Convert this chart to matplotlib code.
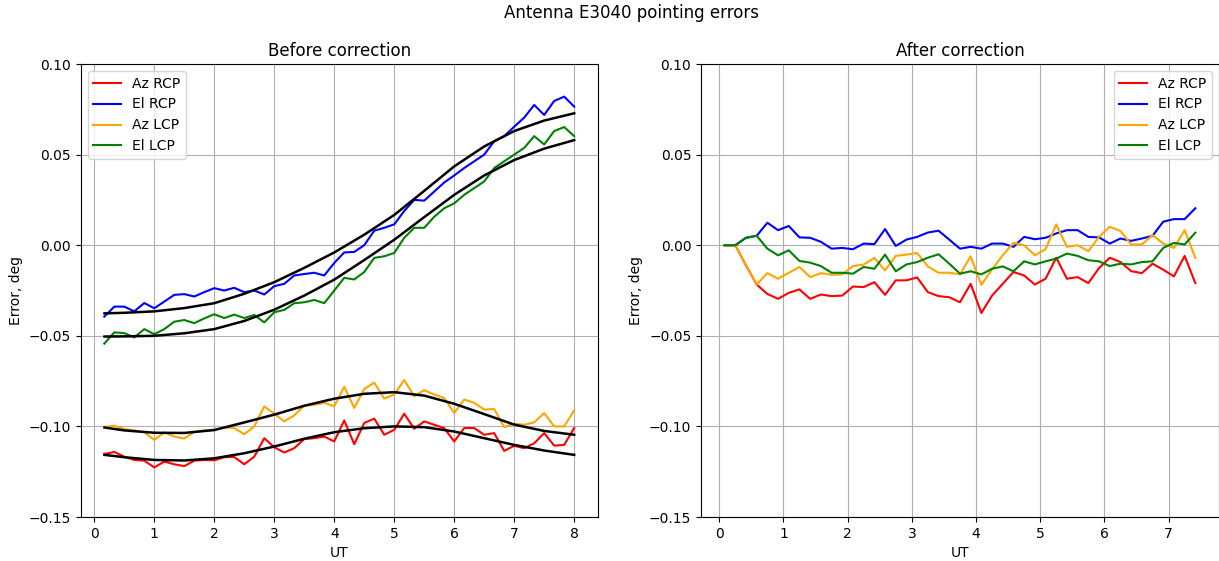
import numpy as np
import matplotlib
matplotlib.use("Agg")
import matplotlib.pyplot as plt

### input data
ut_before = np.arange(1, 49) / 6.0           # 10 min steps, 0.17 .. 8.0 h
ut_after = (2 * np.arange(45) + 1) / 12.0    # 0.08 .. 7.42 h

az_rcp_before = [-0.1152, -0.1141, -0.1167, -0.1185, -0.1189, -0.1226, -0.1194, -0.1209, -0.1219, -0.1189,
                 -0.1185, -0.1187, -0.1170, -0.1169, -0.1209, -0.1167, -0.1065, -0.1115, -0.1144, -0.1120,
                 -0.1070, -0.1065, -0.1056, -0.1083, -0.0967, -0.1098, -0.0981, -0.0957, -0.1046, -0.1019,
                 -0.0930, -0.1013, -0.0972, -0.0991, -0.1009, -0.1083, -0.1009, -0.1009, -0.1046, -0.1037,
                 -0.1135, -0.1107, -0.1120, -0.1093, -0.1037, -0.1106, -0.1102, -0.1009]
el_rcp_before = [-0.0394, -0.0339, -0.0339, -0.0365, -0.0319, -0.0348, -0.0311, -0.0274, -0.0270, -0.0283,
                 -0.0259, -0.0237, -0.0250, -0.0235, -0.0259, -0.0250, -0.0272, -0.0226, -0.0213, -0.0167,
                 -0.0159, -0.0152, -0.0167, -0.0098, -0.0040, -0.0037, 0.0000, 0.0080, 0.0096, 0.0115,
                 0.0189, 0.0250, 0.0246, 0.0296, 0.0346, 0.0385, 0.0426, 0.0463, 0.0500, 0.0574,
                 0.0602, 0.0654, 0.0704, 0.0774, 0.0719, 0.0796, 0.0820, 0.0765]
az_lcp_before = [-0.1004, -0.0996, -0.1015, -0.1022, -0.1033, -0.1074, -0.1033, -0.1056, -0.1067, -0.1031,
                 -0.1022, -0.1019, -0.1006, -0.1009, -0.1043, -0.1000, -0.0889, -0.0930, -0.0972, -0.0939,
                 -0.0885, -0.0880, -0.0870, -0.0889, -0.0781, -0.0898, -0.0793, -0.0759, -0.0846, -0.0824,
                 -0.0744, -0.0833, -0.0800, -0.0824, -0.0843, -0.0926, -0.0852, -0.0870, -0.0907, -0.0904,
                 -0.1004, -0.0985, -0.0991, -0.0978, -0.0926, -0.1000, -0.1000, -0.0911]
el_lcp_before = [-0.0543, -0.0481, -0.0485, -0.0509, -0.0463, -0.0491, -0.0463, -0.0422, -0.0413, -0.0430,
                 -0.0404, -0.0381, -0.0402, -0.0383, -0.0402, -0.0385, -0.0426, -0.0370, -0.0357, -0.0320,
                 -0.0315, -0.0302, -0.0320, -0.0250, -0.0180, -0.0189, -0.0148, -0.0070, -0.0061, -0.0043,
                 0.0041, 0.0096, 0.0096, 0.0157, 0.0204, 0.0231, 0.0278, 0.0315, 0.0352, 0.0426,
                 0.0463, 0.0500, 0.0537, 0.0602, 0.0556, 0.0630, 0.0652, 0.0602]

### model curves (black lines), read every half hour
ut_model = [0.17, 0.5, 1.0, 1.5, 2.0, 2.5, 3.0, 3.5, 4.0, 4.5, 5.0, 5.5, 6.0, 6.5, 7.0, 7.5, 8.0]
az_rcp_model = [-0.1157, -0.1170, -0.1185, -0.1188, -0.1176, -0.1148, -0.1111, -0.1068, -0.1032, -0.1010,
                -0.1000, -0.1004, -0.1028, -0.1065, -0.1102, -0.1133, -0.1157]
el_rcp_model = [-0.0376, -0.0373, -0.0365, -0.0347, -0.0320, -0.0268, -0.0204, -0.0125, -0.0040, 0.0058,
                0.0167, 0.0300, 0.0435, 0.0545, 0.0630, 0.0688, 0.0728]
az_lcp_model = [-0.1006, -0.1022, -0.1035, -0.1036, -0.1020, -0.0978, -0.0935, -0.0886, -0.0847, -0.0820,
                -0.0811, -0.0830, -0.0875, -0.0932, -0.0990, -0.1025, -0.1046]
el_lcp_model = [-0.0504, -0.0503, -0.0500, -0.0486, -0.0463, -0.0418, -0.0356, -0.0278, -0.0190, -0.0082,
                0.0030, 0.0155, 0.0278, 0.0385, 0.0470, 0.0533, 0.0580]

az_rcp_after = [0.0, 0.0, -0.0111, -0.0217, -0.0269, -0.0296, -0.0263, -0.0244, -0.0296, -0.0272,
                -0.0281, -0.0278, -0.0228, -0.0231, -0.0204, -0.0274, -0.0194, -0.0194, -0.0178, -0.0259,
                -0.0281, -0.0287, -0.0315, -0.0213, -0.0374, -0.0278, -0.0213, -0.0148, -0.0167, -0.0217,
                -0.0185, -0.0069, -0.0185, -0.0176, -0.0209, -0.0126, -0.0069, -0.0093, -0.0143, -0.0154,
                -0.0102, -0.0135, -0.0172, -0.0059, -0.0209]
el_rcp_after = [0.0, 0.0, 0.0041, 0.0052, 0.0124, 0.0083, 0.0106, 0.0043, 0.0041, 0.0019,
                -0.0019, -0.0015, -0.0022, 0.0009, 0.0006, 0.0089, -0.0004, 0.0031, 0.0046, 0.0070,
                0.0080, 0.0031, -0.0019, -0.0009, -0.0019, 0.0009, 0.0009, -0.0009, 0.0046, 0.0033,
                0.0041, 0.0065, 0.0083, 0.0083, 0.0046, 0.0043, 0.0009, 0.0037, 0.0024, 0.0037,
                0.0052, 0.0130, 0.0144, 0.0144, 0.0204]
az_lcp_after = [0.0, 0.0, -0.0111, -0.0217, -0.0154, -0.0185, -0.0152, -0.0120, -0.0176, -0.0154,
                -0.0163, -0.0161, -0.0115, -0.0107, -0.0070, -0.0139, -0.0059, -0.0052, -0.0043, -0.0117,
                -0.0152, -0.0152, -0.0161, -0.0061, -0.0219, -0.0133, -0.0056, 0.0013, 0.0000, -0.0056,
                -0.0022, 0.0115, -0.0009, 0.0000, -0.0033, 0.0046, 0.0102, 0.0078, 0.0004, 0.0004,
                0.0056, 0.0009, -0.0015, 0.0083, -0.0070]
el_lcp_after = [0.0, 0.0, 0.0041, 0.0052, -0.0019, -0.0056, -0.0028, -0.0087, -0.0096, -0.0115,
                -0.0152, -0.0152, -0.0157, -0.0120, -0.0130, -0.0052, -0.0144, -0.0106, -0.0093, -0.0069,
                -0.0050, -0.0102, -0.0157, -0.0144, -0.0161, -0.0130, -0.0117, -0.0144, -0.0089, -0.0106,
                -0.0089, -0.0074, -0.0046, -0.0059, -0.0083, -0.0089, -0.0115, -0.0102, -0.0106, -0.0093,
                -0.0089, -0.0015, 0.0013, 0.0004, 0.0069]

labels = ["Az RCP", "El RCP", "Az LCP", "El LCP"]
colors = ["red", "blue", "orange", "green"]

### figure
fig = plt.figure(figsize=(12.19, 5.61), dpi=100)
ax1 = fig.add_axes([0.0663, 0.0784, 0.4240, 0.8075])
ax2 = fig.add_axes([0.5751, 0.0784, 0.4248, 0.8075])
fig.suptitle("Antenna E3040 pointing errors", x=0.518, y=0.977, va="center", fontsize=12)

### before correction, with model curves
before = [az_rcp_before, el_rcp_before, az_lcp_before, el_lcp_before]
for y, lab, c in zip(before, labels, colors):
    ax1.plot(ut_before, y, color=c, lw=1.5, label=lab)
for y in [az_rcp_model, el_rcp_model, az_lcp_model, el_lcp_model]:
    ax1.plot(ut_model, y, color="k", lw=1.8)
ax1.set_title("Before correction")
ax1.legend(loc="upper left")

### after correction
after = [az_rcp_after, el_rcp_after, az_lcp_after, el_lcp_after]
for y, lab, c in zip(after, labels, colors):
    ax2.plot(ut_after, y, color=c, lw=1.5, label=lab)
ax2.set_title("After correction")
ax2.legend(loc="upper right")

for ax in (ax1, ax2):
    ax.set_ylim(-0.15, 0.10)
    ax.set_yticks(np.arange(-0.15, 0.101, 0.05))
    ax.set_xlabel("UT")
    ax.set_ylabel("Error, deg")
    ax.grid(True)

fig.savefig("out.png", dpi=100)
